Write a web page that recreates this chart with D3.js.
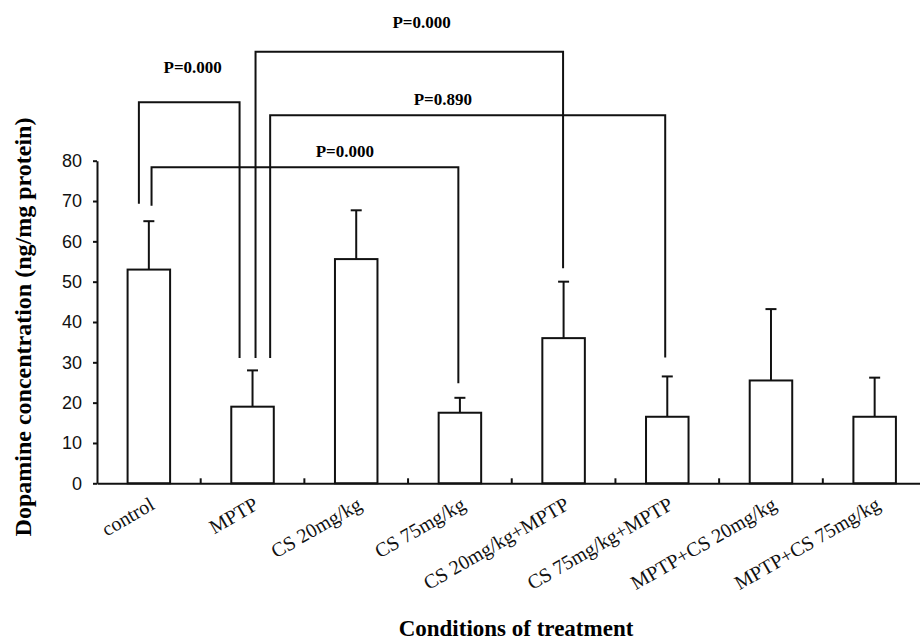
<!DOCTYPE html>
<html>
<head>
<meta charset="utf-8">
<script src="https://cdn.jsdelivr.net/npm/d3@7"></script>
<style>
  body { margin: 0; background: #fff; }
  svg { display: block; }
  .bar, .err, .bracket { fill: none; stroke: #111; stroke-width: 2; }
  .bar { fill: #fff; }
</style>
</head>
<body>
<script>
// treatment groups and dopamine values
const categories = ["control", "MPTP", "CS 20mg/kg", "CS 75mg/kg", "CS 20mg/kg+MPTP",
                    "CS 75mg/kg+MPTP", "MPTP+CS 20mg/kg", "MPTP+CS 75mg/kg"];
const means = [53, 19, 55.6, 17.5, 36, 16.5, 25.5, 16.5];
const errTops = [65, 28, 67.7, 21.2, 50, 26.5, 43.2, 26.2];
const yTicks = [0, 10, 20, 30, 40, 50, 60, 70, 80];

// significance brackets: group indices, p-value, bracket level and leg ends (data units)
const brackets = [
    {from: 0, to: 3, p: "P=0.000", level: 78.4, fromEnd: 68.8, toEnd: 24.8},
    {from: 1, to: 5, p: "P=0.890", level: 91.3, fromEnd: 31.1, toEnd: 31.2},
    {from: 0, to: 1, p: "P=0.000", level: 94.5, fromEnd: 69.3, toEnd: 31.1},
    {from: 1, to: 4, p: "P=0.000", level: 107,  fromEnd: 31.1, toEnd: 53.3}
];

const w = 920;
const h = 643;

const x = d3.scaleBand()
            .domain(categories)
            .range([97, 926.5])
            .padding(0);
const y = d3.scaleLinear()
            .domain([0, 80])
            .range([483.3, 160.7]);

const barW = x.bandwidth() * 0.41;
const cx = i => x(categories[i]) + x.bandwidth() / 2;

// leg offsets from bar centre (fraction of band) and label anchor (band units), per bracket
const legShift = [[0.026, -0.015], [0.17, -0.02], [-0.096, -0.125], [0.029, -0.005]];
const labelPos = [[2.39, 81.0], [3.335, 93.8], [0.923, 101.7], [3.13, 112.8]];

const svg = d3.select("body").append("svg")
              .attr("width", w)
              .attr("height", h);

// y axis
const yAxis = svg.append("g")
                 .attr("transform", "translate(97, 0)")
                 .call(d3.axisLeft(y).tickValues(yTicks).tickSize(4).tickSizeOuter(0).tickPadding(11));
yAxis.select(".domain").attr("stroke-width", 2).attr("stroke", "#111");
yAxis.selectAll(".tick line").attr("stroke-width", 2).attr("stroke", "#111");
yAxis.selectAll("text")
     .attr("fill", "#111")
     .style("font-family", "'Liberation Sans', Arial, sans-serif")
     .style("font-size", "18px");

// bars
svg.selectAll("rect.bar")
   .data(means)
   .enter().append("rect")
   .attr("class", "bar")
   .attr("x", (d, i) => cx(i) - barW / 2)
   .attr("width", barW)
   .attr("y", d => y(d))
   .attr("height", d => y(0) - y(d));

// error bars
const errs = svg.selectAll("g.errbar")
                .data(errTops)
                .enter().append("g")
                .attr("class", "errbar");
errs.append("line")
    .attr("class", "err")
    .attr("x1", (d, i) => cx(i)).attr("x2", (d, i) => cx(i))
    .attr("y1", (d, i) => y(means[i]))
    .attr("y2", d => y(d));
errs.append("line")
    .attr("class", "err")
    .attr("x1", (d, i) => cx(i) - 5.5).attr("x2", (d, i) => cx(i) + 5.5)
    .attr("y1", d => y(d)).attr("y2", d => y(d));

// x axis
const xAxis = svg.append("g")
                 .attr("transform", `translate(0, ${y(0)})`)
                 .call(d3.axisBottom(x).tickSize(0).tickSizeOuter(0));
xAxis.select(".domain").attr("stroke-width", 2).attr("stroke", "#111");
xAxis.selectAll("text")
     .attr("fill", "#111")
     .attr("text-anchor", "end")
     .attr("dy", null)
     .attr("y", null)
     .attr("transform", "translate(7, 25) rotate(-30)")
     .style("font-family", "'Liberation Serif', 'Times New Roman', serif")
     .style("font-size", "20px");

// small inward ticks between categories
svg.selectAll("line.sep")
   .data(categories.slice(1))
   .enter().append("line")
   .attr("class", "err")
   .attr("x1", d => x(d)).attr("x2", d => x(d))
   .attr("y1", y(0)).attr("y2", y(0) - 5);

// significance brackets
brackets.forEach((b, k) => {
    const x1 = cx(b.from) + legShift[k][0] * x.step();
    const x2 = cx(b.to) + legShift[k][1] * x.step();
    svg.append("path")
       .attr("class", "bracket")
       .attr("d", `M${x1},${y(b.fromEnd)}V${y(b.level)}H${x2}V${y(b.toEnd)}`);
    svg.append("text")
       .attr("x", x.range()[0] + labelPos[k][0] * x.step())
       .attr("y", y(labelPos[k][1]))
       .attr("text-anchor", "middle")
       .style("font-family", "'Liberation Serif', 'Times New Roman', serif")
       .style("font-weight", "bold")
       .style("font-size", "17px")
       .text(b.p);
});

// axis titles
svg.append("text")
   .attr("text-anchor", "middle")
   .attr("transform", "translate(31, 327) rotate(-90)")
   .style("font-family", "'Liberation Serif', 'Times New Roman', serif")
   .style("font-weight", "bold")
   .style("font-size", "24px")
   .text("Dopamine concentration (ng/mg protein)");

svg.append("text")
   .attr("text-anchor", "middle")
   .attr("x", 516)
   .attr("y", 636)
   .style("font-family", "'Liberation Serif', 'Times New Roman', serif")
   .style("font-weight", "bold")
   .style("font-size", "23px")
   .text("Conditions of treatment");
</script>
</body>
</html>
